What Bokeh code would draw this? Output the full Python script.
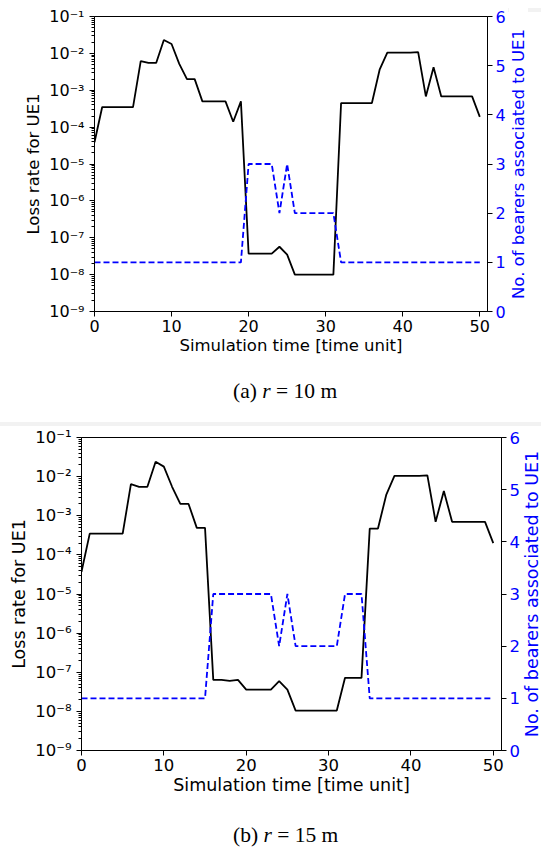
import math
from bokeh.plotting import figure
from bokeh.models import LinearAxis, Range1d, FixedTicker, Div, LinearScale
from bokeh.core.properties import value
from bokeh.layouts import column, row
from bokeh.embed import file_html
from bokeh.resources import INLINE

# ---------------- data ----------------
time_a = list(range(51))
loss_a = [3.9e-5, 3.5e-4, 3.5e-4, 3.5e-4, 3.5e-4, 3.5e-4, 6.2e-3, 5.5e-3, 5.5e-3, 2.3e-2,
          1.8e-2, 5.2e-3, 2.0e-3, 2.0e-3, 5.0e-4, 5.0e-4, 5.0e-4, 5.0e-4, 1.4e-4, 5.0e-4,
          3.7e-8, 3.7e-8, 3.7e-8, 3.7e-8, 5.7e-8, 3.5e-8, 1.0e-8, 1.0e-8, 1.0e-8, 1.0e-8,
          1.0e-8, 1.0e-8, 4.5e-4, 4.5e-4, 4.5e-4, 4.5e-4, 4.5e-4, 3.6e-3, 1.05e-2, 1.05e-2,
          1.05e-2, 1.05e-2, 1.08e-2, 6.8e-4, 4.2e-3, 6.8e-4, 6.8e-4, 6.8e-4, 6.8e-4, 6.8e-4,
          1.9e-4]
bearers_a = [1, 1, 1, 1, 1, 1, 1, 1, 1, 1,
             1, 1, 1, 1, 1, 1, 1, 1, 1, 1,
             3, 3, 3, 3, 2, 3, 2, 2, 2, 2,
             2, 2, 1, 1, 1, 1, 1, 1, 1, 1,
             1, 1, 1, 1, 1, 1, 1, 1, 1, 1,
             1]

time_b = list(range(51))
loss_b = [3.7e-5, 3.5e-4, 3.5e-4, 3.5e-4, 3.5e-4, 3.5e-4, 6.4e-3, 5.5e-3, 5.5e-3, 2.4e-2,
          1.8e-2, 5.5e-3, 2.0e-3, 2.0e-3, 4.9e-4, 4.9e-4, 6.4e-8, 6.4e-8, 6.0e-8, 6.4e-8,
          3.6e-8, 3.6e-8, 3.6e-8, 3.6e-8, 5.9e-8, 3.6e-8, 1.05e-8, 1.05e-8, 1.05e-8, 1.05e-8,
          1.05e-8, 1.05e-8, 7.2e-8, 7.2e-8, 7.2e-8, 4.7e-4, 4.7e-4, 3.4e-3, 1.05e-2, 1.05e-2,
          1.05e-2, 1.05e-2, 1.08e-2, 7.0e-4, 4.3e-3, 7.0e-4, 7.0e-4, 7.0e-4, 7.0e-4, 7.0e-4,
          2.0e-4]
bearers_b = [1, 1, 1, 1, 1, 1, 1, 1, 1, 1,
             1, 1, 1, 1, 1, 1, 3, 3, 3, 3,
             3, 3, 3, 3, 2, 3, 2, 2, 2, 2,
             2, 2, 3, 3, 3, 1, 1, 1, 1, 1,
             1, 1, 1, 1, 1, 1, 1, 1, 1, 1,
             1]

x_range = (0, 51)
x_ticks = [0, 10, 20, 30, 40, 50]
log_exponents = [-9, -8, -7, -6, -5, -4, -3, -2, -1]
log_tick_labels = ["10\u207b\u2079", "10\u207b\u2078", "10\u207b\u2077", "10\u207b\u2076",
                   "10\u207b\u2075", "10\u207b\u2074", "10\u207b\u00b3", "10\u207b\u00b2",
                   "10\u207b\u00b9"]
bearer_range = (0, 6)
bearer_ticks = [0, 1, 2, 3, 4, 5, 6]

x_label = "Simulation time [time unit]"
y_label = "Loss rate for UE1"
y2_label = "No. of bearers associated to UE1"
caption_a = ("(a) ", "r", " = 10 m")
caption_b = ("(b) ", "r", " = 15 m")

BLUE = "#0000ff"
FONT = "DejaVu Sans"
W = 541


def make_panel(t, loss, bearers, width, height, bl, br, bt, bb, tick_fs, label_fs):
    p = figure(width=width, height=height, y_axis_type="log",
               x_range=Range1d(*x_range),
               y_range=Range1d(10.0 ** log_exponents[0], 10.0 ** log_exponents[-1]),
               output_backend="svg", toolbar_location=None,
               min_border_left=bl, min_border_right=br, min_border_top=bt,
               min_border_bottom=bb)
    p.grid.visible = False
    p.outline_line_color = "black"
    p.outline_line_width = 1
    p.outline_line_alpha = 1
    p.background_fill_color = "white"
    p.border_fill_color = "white"
    p.extra_y_ranges = {"bearers": Range1d(*bearer_range)}
    p.extra_y_scales = {"bearers": LinearScale()}

    left = p.yaxis[0]
    bottom = p.xaxis[0]
    major = [10.0 ** e for e in log_exponents]
    minor = [k * 10.0 ** e for e in log_exponents[:-1] for k in range(2, 10)]
    left.ticker = FixedTicker(ticks=major, minor_ticks=minor)
    left.major_label_overrides = {m: s for m, s in zip(major, log_tick_labels)}
    bottom.ticker = FixedTicker(ticks=x_ticks)

    y2 = LinearAxis(y_range_name="bearers", ticker=FixedTicker(ticks=bearer_ticks))
    p.add_layout(y2, "right")

    for ax in [bottom, left, y2]:
        ax.axis_line_color = "black"
        ax.major_tick_line_color = "black"
        ax.minor_tick_line_color = "black"
        ax.major_tick_out = 5
        ax.major_tick_in = 0
        ax.minor_tick_out = 3
        ax.minor_tick_in = 0
        ax.major_label_text_font = FONT
        ax.major_label_text_font_size = f"{tick_fs}px"
        ax.major_label_text_color = "black"
        ax.axis_label_text_font = FONT
        ax.axis_label_text_font_size = f"{label_fs}px"
        ax.axis_label_text_font_style = "normal"
        ax.axis_label_text_color = "black"
    bottom.axis_label = x_label
    left.axis_label = y_label
    bottom.major_label_standoff = 3
    bottom.axis_label_standoff = 1
    left.major_label_standoff = 5
    left.axis_label_standoff = 3
    y2.major_label_standoff = 3
    y2.major_label_text_color = BLUE

    p.line(t, loss, line_color="black", line_width=1.8)
    p.line(t, bearers, y_range_name="bearers", line_color=BLUE, line_width=1.8,
           line_dash="6 3")
    return p


def side_title(text, width, height, bt, bb, label_fs):
    """Narrow strip holding the right-hand axis title, reading bottom-to-top."""
    s = figure(width=width, height=height, x_range=Range1d(0, 1), y_range=Range1d(0, 1),
               output_backend="svg", toolbar_location=None,
               x_axis_location=None, y_axis_location=None,
               min_border_left=0, min_border_right=0, min_border_top=bt,
               min_border_bottom=bb)
    s.grid.visible = False
    s.outline_line_color = None
    s.background_fill_color = "white"
    s.border_fill_color = "white"
    s.text(x=[0.5], y=[0.5], text=[text], angle=math.pi / 2, text_align="center",
           text_baseline="middle", text_color=BLUE, text_font=value(FONT),
           text_font_size=value(f"{label_fs}px"))
    return s


def caption(parts, height, pad_top):
    html = (f'<div style="width:{W - 233}px;text-align:left;font-family:\'Liberation Serif\';'
            f'font-size:21.5px;color:#000;padding-top:{pad_top}px;padding-left:233px;'
            f'white-space:nowrap;">'
            f'{parts[0]}<i>{parts[1]}</i>{parts[2]}</div>')
    return Div(text=html, width=W, height=height, margin=0)


top_band = Div(text='<div style="margin-left:20px;margin-top:2px;height:4px;width:521px;'
                    'background:#f2f2f2;"></div>', width=W, height=6, margin=0)
fig_a = make_panel(time_a, loss_a, bearers_a, 508, 356, 94, 20, 10, 51, 16, 16.5)
lab_a = side_title(y2_label, 20, 356, 10, 51, 16.5)
cap_a = caption(caption_a, 60, 14)
band = Div(text="", width=W, height=4, margin=0, styles={"background-color": "#f2f2f2"})
fig_b = make_panel(time_b, loss_b, bearers_b, 522, 375, 81, 20, 11, 51, 16.5, 17.5)
lab_b = side_title(y2_label, 19, 375, 11, 51, 17.5)
cap_b = caption(caption_b, 48, 19)

layout = column(top_band, row(fig_a, lab_a, spacing=0), cap_a, band,
                row(fig_b, lab_b, spacing=0), cap_b, spacing=0)

with open("out.html", "w") as f:
    f.write(file_html(layout, INLINE))
